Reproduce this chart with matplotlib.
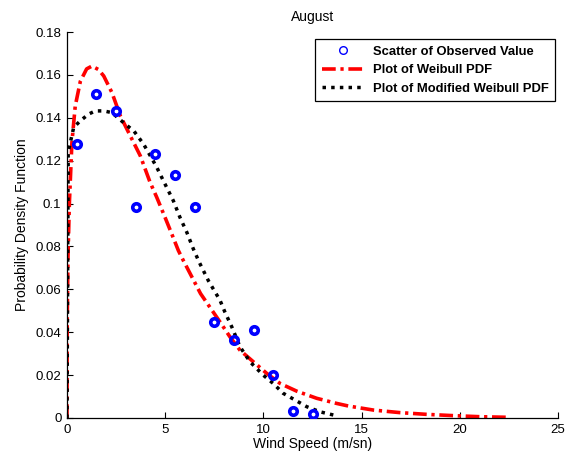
import matplotlib
matplotlib.use("Agg")
import matplotlib.pyplot as plt

plt.rcParams['font.family'] = ['Liberation Sans', 'DejaVu Sans']

# Observed values (scatter)
obs_x = [0.5, 1.5, 2.5, 3.5, 4.5, 5.5, 6.5, 7.5, 8.5, 9.5, 10.5, 11.5, 12.5]
obs_y = [0.1276, 0.1513, 0.1431, 0.0985, 0.1233, 0.1133, 0.0985,
         0.0450, 0.0366, 0.0409, 0.0200, 0.0033, 0.0017]

# Weibull PDF curve
weib_x = [0.0, 0.01, 0.05, 0.12, 0.25, 0.42, 0.68, 1.0, 1.27, 1.6, 1.87, 2.29,
          2.71, 3.22, 3.73, 4.23, 4.57, 4.99, 5.33, 5.67, 5.92, 6.8, 7.79, 8.3,
          8.81, 9.49, 10.17, 10.85, 11.7, 12.71, 13.73, 14.32, 15.6, 16.96,
          18.31, 19.67, 21.03, 22.56]
weib_y = [0.0, 0.045, 0.075, 0.100, 0.1285, 0.1455, 0.157, 0.1628, 0.1641,
          0.1625, 0.1595, 0.1517, 0.141, 0.1316, 0.1223, 0.1099, 0.1029, 0.0936,
          0.0859, 0.0781, 0.0735, 0.058, 0.0448, 0.0378, 0.0316, 0.0262, 0.0208,
          0.0161, 0.0125, 0.0092, 0.0068, 0.0056, 0.0037, 0.0025, 0.0017,
          0.0011, 0.0006, 0.0003]

# Modified Weibull PDF curve
mod_x = [0.0, 0.06, 0.34, 0.68, 1.1, 1.44, 1.87, 2.29, 2.97, 3.4, 3.9, 4.32,
         4.57, 4.99, 5.41, 5.75, 6.1, 6.43, 6.74, 7.2, 7.79, 8.04, 8.39, 8.81,
         9.32, 9.99, 10.5, 11.01, 11.61, 12.2, 12.88, 13.56]
mod_y = [0.0, 0.124, 0.1355, 0.1386, 0.1417, 0.1432, 0.1432, 0.1424, 0.137,
         0.1339, 0.1277, 0.121, 0.1169, 0.1091, 0.1014, 0.0936, 0.0866, 0.0789,
         0.0725, 0.064, 0.0549, 0.0494, 0.0425, 0.0332, 0.0262, 0.020, 0.0161,
         0.0115, 0.0084, 0.0053, 0.0029, 0.0014]

x_ticks = [0, 5, 10, 15, 20, 25]
y_ticks = [0, 0.02, 0.04, 0.06, 0.08, 0.10, 0.12, 0.14, 0.16, 0.18]
y_tick_labels = ['0', '0.02', '0.04', '0.06', '0.08', '0.1', '0.12', '0.14', '0.16', '0.18']

fig = plt.figure(figsize=(5.68, 4.63), dpi=100)
ax = fig.add_axes([67/568, 45/463, 491/568, 386/463])

ax.plot(obs_x, obs_y, linestyle='none', marker='o', markersize=5.4,
        markerfacecolor='none', markeredgecolor='#0000ff', markeredgewidth=2.6,
        label='Scatter of Observed Value', zorder=3)
ax.plot(weib_x, weib_y, color='#ff0000', linewidth=2.6,
        linestyle=(0, (3.8, 1.3, 0.9, 1.3)), dash_capstyle='butt',
        label='Plot of Weibull PDF', zorder=2)
ax.plot(mod_x, mod_y, color='black', linewidth=2.5,
        linestyle=(0, (1, 1.5)), dash_capstyle='butt',
        label='Plot of Modified Weibull PDF', zorder=2)

ax.set_xlim(0, 25)
ax.set_ylim(0, 0.18)
ax.set_xticks(x_ticks)
ax.set_xticklabels([str(t) for t in x_ticks])
ax.set_yticks(y_ticks)
ax.set_yticklabels(y_tick_labels)
ax.tick_params(direction='in', length=4, width=0.8, labelsize=9.5, pad=4)
for s in ['top', 'right']:
    ax.spines[s].set_visible(False)
for s in ['left', 'bottom']:
    ax.spines[s].set_linewidth(0.9)

ax.set_title('August', fontsize=10, pad=8)
ax.set_xlabel('Wind Speed (m/sn)', fontsize=10, labelpad=1)
ax.set_ylabel('Probability Density Function', fontsize=10, labelpad=5)

leg = ax.legend(loc='upper right', bbox_to_anchor=(0.994, 0.982),
                borderaxespad=0, fancybox=False, framealpha=1,
                edgecolor='black', prop={'weight': 'bold', 'size': 9.4},
                handlelength=3.3, handletextpad=0.6, labelspacing=0.5,
                borderpad=0.5)
leg.get_frame().set_linewidth(0.9)
h = leg.legend_handles[0]
h.set_markersize(5.5)
h.set_markeredgewidth(1.0)

fig.savefig('out.png', dpi=100)
